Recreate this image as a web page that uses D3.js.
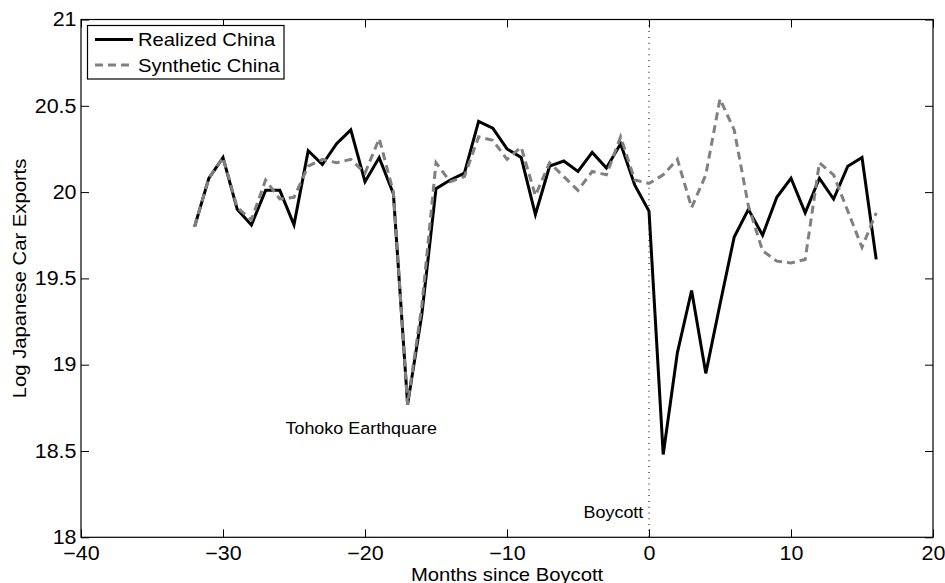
<!DOCTYPE html>
<html>
<head>
<meta charset="utf-8">
<script src="https://cdn.jsdelivr.net/npm/d3@7"></script>
<style>
  body { margin: 0; background: #fff; }
  text { font-family: "Liberation Sans", Arial, Helvetica, sans-serif; fill: #000; }
</style>
</head>
<body>
<div id="chart"></div>
<script>
// months relative to the boycott
var months = [-32, -31, -30, -29, -28, -27, -26, -25, -24, -23, -22, -21, -20, -19, -18, -17,
  -16, -15, -14, -13, -12, -11, -10, -9, -8, -7, -6, -5, -4, -3, -2, -1,
  0, 1, 2, 3, 4, 5, 6, 7, 8, 9, 10, 11, 12, 13, 14, 15, 16];

// log japanese car exports, realized
var realized = [19.80, 20.08, 20.20, 19.90, 19.81, 20.01, 20.01, 19.81, 20.24, 20.16, 20.28, 20.36, 20.06, 20.20, 19.99, 18.77,
  19.29, 20.02, 20.07, 20.11, 20.41, 20.37, 20.25, 20.20, 19.87, 20.15, 20.18, 20.12, 20.23, 20.14, 20.28, 20.04,
  19.89, 18.48, 19.07, 19.43, 18.95, 19.35, 19.74, 19.90, 19.75, 19.97, 20.08, 19.88, 20.08, 19.96, 20.15, 20.20, 19.61];

// synthetic control
var synthetic = [19.80, 20.08, 20.20, 19.91, 19.84, 20.07, 19.96, 19.97, 20.15, 20.19, 20.17, 20.19, 20.11, 20.31, 20.00, 18.77,
  19.34, 20.17, 20.06, 20.09, 20.32, 20.30, 20.19, 20.26, 19.98, 20.17, 20.09, 20.01, 20.12, 20.10, 20.32, 20.07,
  20.05, 20.10, 20.19, 19.91, 20.10, 20.54, 20.36, 19.92, 19.66, 19.60, 19.59, 19.61, 20.17, 20.10, 19.89, 19.68, 19.88];

var xTicks = [-40, -30, -20, -10, 0, 10, 20];
var yTicks = [18, 18.5, 19, 19.5, 20, 20.5, 21];
var seriesNames = ["Realized China", "Synthetic China"];
var annotations = [
  { label: "Tohoko Earthquare", month: -25.6, value: 18.6, anchor: "start" },
  { label: "Boycott", month: -0.4, value: 18.11, anchor: "end" }
];

var W = 945, H = 583;
var margin = { top: 19.5, right: 12, bottom: 45.7, left: 81 },
  width = W - margin.left - margin.right,
  height = H - margin.top - margin.bottom;

// text in the picture is a bit wider than the font, so stretch it
var SX = 1.1;

var svg = d3.select("#chart").append("svg")
  .attr("width", W)
  .attr("height", H);

var g = svg.append("g")
  .attr("transform", "translate(" + margin.left + "," + margin.top + ")");

var x = d3.scaleLinear().domain([-40, 20]).range([0, width]);
var y = d3.scaleLinear().domain([18, 21]).range([height, 0]);

// boycott marker
g.append("line")
  .attr("x1", x(0)).attr("x2", x(0))
  .attr("y1", 0).attr("y2", height)
  .attr("stroke", "#333")
  .attr("stroke-width", 1.3)
  .attr("stroke-dasharray", "1,4.8");

// axes, ticks pointing inward on all sides
function styleAxis(sel) {
  sel.select(".domain").remove();
  sel.selectAll(".tick line").attr("stroke", "#000");
}

var xb = g.append("g")
  .attr("transform", "translate(0," + height + ")")
  .call(d3.axisBottom(x).tickValues(xTicks).tickSizeInner(-8).tickSizeOuter(0).tickPadding(9))
  .call(styleAxis);
xb.selectAll("text")
  .style("font-size", "19.5px")
  .attr("transform", "scale(" + SX + ",1)");

var yl = g.append("g")
  .call(d3.axisLeft(y).tickValues(yTicks).tickSizeInner(-8).tickSizeOuter(0).tickPadding(4.5).tickFormat(d3.format("")))
  .call(styleAxis);
yl.selectAll("text")
  .style("font-size", "19.5px")
  .attr("x", -4.5 / SX)
  .attr("transform", "scale(" + SX + ",1)");

g.append("g")
  .call(d3.axisTop(x).tickValues(xTicks).tickSizeInner(-8).tickSizeOuter(0).tickFormat(""))
  .call(styleAxis);
g.append("g")
  .attr("transform", "translate(" + width + ",0)")
  .call(d3.axisRight(y).tickValues(yTicks).tickSizeInner(-8).tickSizeOuter(0).tickFormat(""))
  .call(styleAxis);

g.append("rect")
  .attr("width", width)
  .attr("height", height)
  .attr("fill", "none")
  .attr("stroke", "#000")
  .attr("stroke-width", 1.2);

// helper for stretched text
function addText(parent, tx, ty, str, size, anchor, rot) {
  return parent.append("text")
    .attr("transform", "translate(" + tx + "," + ty + ")" + (rot ? " rotate(" + rot + ")" : "") + " scale(" + SX + ",1)")
    .attr("text-anchor", anchor)
    .style("font-size", size + "px")
    .text(str);
}

// axis labels
addText(svg, margin.left + width / 2, 581, "Months since Boycott", 18.4, "middle");
addText(svg, 25.5, margin.top + height / 2, "Log Japanese Car Exports", 18.4, "middle", -90);

// lines
var data = months.map(function (m, i) {
  return { month: m, real: realized[i], synth: synthetic[i] };
});

var lineReal = d3.line()
  .x(function (d) { return x(d.month); })
  .y(function (d) { return y(d.real); });
var lineSynth = d3.line()
  .x(function (d) { return x(d.month); })
  .y(function (d) { return y(d.synth); });

g.append("path")
  .datum(data)
  .attr("d", lineReal)
  .attr("fill", "none")
  .attr("stroke", "#000")
  .attr("stroke-width", 3);

g.append("path")
  .datum(data)
  .attr("d", lineSynth)
  .attr("fill", "none")
  .attr("stroke", "#808080")
  .attr("stroke-width", 3)
  .attr("stroke-dasharray", "8,5");

// annotations
annotations.forEach(function (a) {
  addText(g, x(a.month), y(a.value), a.label, 16.3, a.anchor);
});

// legend
var legend = svg.append("g").attr("transform", "translate(87.5,25.5)");
legend.append("rect")
  .attr("width", 196.5)
  .attr("height", 53.5)
  .attr("fill", "#fff")
  .attr("stroke", "#000")
  .attr("stroke-width", 1.2);

var legendStyles = [
  { stroke: "#000", dash: null },
  { stroke: "#808080", dash: "8,5" }
];
seriesNames.forEach(function (name, i) {
  var ly = 14 + i * 25.5;
  legend.append("line")
    .attr("x1", 7.5).attr("x2", 45.5)
    .attr("y1", ly).attr("y2", ly)
    .attr("stroke", legendStyles[i].stroke)
    .attr("stroke-width", 3)
    .attr("stroke-dasharray", legendStyles[i].dash);
  addText(legend, 50.5, ly + 6.5, name, 18.4, "start");
});
</script>
</body>
</html>
